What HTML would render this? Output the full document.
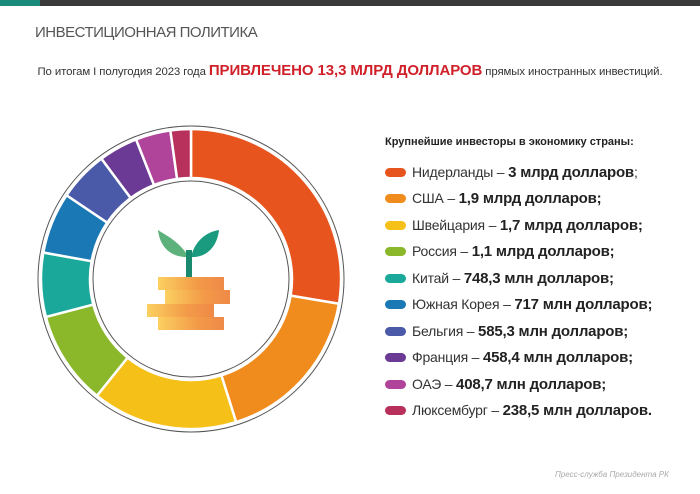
<!DOCTYPE html>
<html><head><meta charset="utf-8"><style>
body{margin:0;width:700px;height:494px;overflow:hidden;background:#fff;font-family:"Liberation Sans",sans-serif;position:relative}
.t{position:absolute;white-space:nowrap}
.row{position:absolute;left:385px;white-space:nowrap;font-size:14px;color:#333;line-height:18px;letter-spacing:-0.2px}
.row i{display:inline-block;width:21px;height:9px;border-radius:5px;vertical-align:middle;margin-right:6px;margin-top:-2px}
.row b{font-size:15px;color:#222}
</style></head><body>
<div style="position:absolute;left:0;top:0;width:700px;height:6px;background:#3a3a3a"></div>
<div style="position:absolute;left:0;top:0;width:40px;height:6px;background:#1a8a7a"></div>
<div class="t" style="left:35px;top:24px;font-size:15px;color:#555;letter-spacing:-0.5px">ИНВЕСТИЦИОННАЯ ПОЛИТИКА</div>
<div class="t" style="left:0;width:700px;text-align:center;top:62px;font-size:11.4px;color:#333;letter-spacing:-0.1px">По итогам I полугодия 2023 года <b style="color:#d0202a;font-size:15px">ПРИВЛЕЧЕНО 13,3 МЛРД ДОЛЛАРОВ</b> прямых иностранных инвестиций.</div>
<svg id="s" width="700" height="494" style="position:absolute;left:0;top:0">
<circle cx="191" cy="279" r="153" fill="none" stroke="#555" stroke-width="1"/>
<circle cx="191" cy="279" r="98" fill="none" stroke="#555" stroke-width="1"/>
<g id="g"></g>
<path d="M189 257 C178 240 165 235 158 230 C160 248 172 258 189 257Z" fill="#5cb27a"/>
<path d="M191 257 C195 240 207 232 219 230 C217 248 205 258 191 257Z" fill="#1a9a7e"/>
<rect x="186" y="250" width="6" height="27" fill="#1a8a6e"/>
<defs><linearGradient id="c" x1="0" x2="1"><stop offset="0" stop-color="#fbd060"/><stop offset="0.6" stop-color="#f39a48"/><stop offset="1" stop-color="#ef8a48"/></linearGradient></defs>
<rect x="158" y="277" width="66" height="13" fill="url(#c)"/>
<rect x="165" y="290" width="65" height="14" fill="url(#c)"/>
<rect x="147" y="304" width="67" height="13" fill="url(#c)"/>
<rect x="158" y="317" width="66" height="13" fill="url(#c)"/>
</svg>
<div class="t" style="left:385px;top:136px;font-size:11px;font-weight:bold;color:#222">Крупнейшие инвесторы в экономику страны:</div>
<div class="row" style="top:163px"><i style="background:#e8541e"></i>Нидерланды – <b>3 млрд долларов</b>;</div>
<div class="row" style="top:189px"><i style="background:#f08c1e"></i>США – <b>1,9 млрд долларов;</b></div>
<div class="row" style="top:216px"><i style="background:#f5c018"></i>Швейцария – <b>1,7 млрд долларов;</b></div>
<div class="row" style="top:242px"><i style="background:#8ab82a"></i>Россия – <b>1,1 млрд долларов;</b></div>
<div class="row" style="top:269px"><i style="background:#1aa89a"></i>Китай – <b>748,3 млн долларов;</b></div>
<div class="row" style="top:295px"><i style="background:#1a78b4"></i>Южная Корея – <b>717 млн долларов;</b></div>
<div class="row" style="top:322px"><i style="background:#4a5aa8"></i>Бельгия – <b>585,3 млн долларов;</b></div>
<div class="row" style="top:348px"><i style="background:#6a3a94"></i>Франция – <b>458,4 млн долларов;</b></div>
<div class="row" style="top:375px"><i style="background:#b0449a"></i>ОАЭ – <b>408,7 млн долларов;</b></div>
<div class="row" style="top:401px"><i style="background:#b8305c"></i>Люксембург – <b>238,5 млн долларов.</b></div>
<div class="t" style="left:555px;top:470px;font-size:8px;font-style:italic;color:#aaa">Пресс-служба Президента РК</div>
<script>
var v=[3,1.9,1.7,1.1,.748,.717,.585,.458,.409,.2385],c=["#e8541e","#f08c1e","#f5c018","#8ab82a","#1aa89a","#1a78b4","#4a5aa8","#6a3a94","#b0449a","#b8305c"];
var T=v.reduce((a,b)=>a+b),a=-Math.PI/2,h="",cx=191,cy=279,R=150,r=101;
function p(R,t){return (cx+R*Math.cos(t)).toFixed(2)+" "+(cy+R*Math.sin(t)).toFixed(2)}
v.forEach((x,i)=>{var b=a+x/T*2*Math.PI,l=(b-a)>Math.PI?1:0;
h+='<path d="M'+p(R,a)+' A'+R+' '+R+' 0 '+l+' 1 '+p(R,b)+' L'+p(r,b)+' A'+r+' '+r+' 0 '+l+' 0 '+p(r,a)+'Z" fill="'+c[i]+'" stroke="#fff" stroke-width="2.5"/>';a=b;});
document.getElementById("g").innerHTML=h;
</script>
</body></html>
